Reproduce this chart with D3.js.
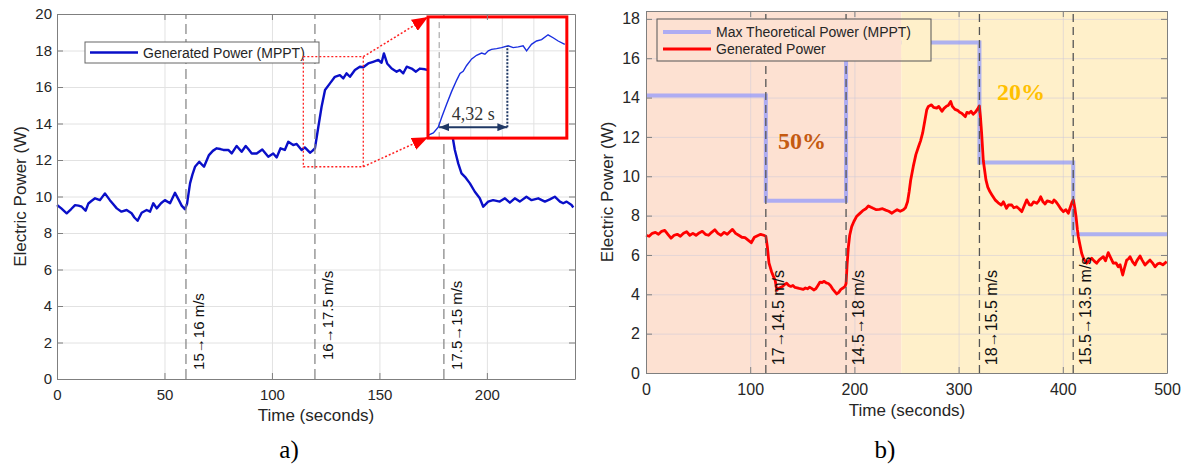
<!DOCTYPE html>
<html lang="en">
<head>
  <meta charset="UTF-8">
  <title>Generated power – wind steps</title>
  <style>
    body { margin: 0; background: #fff; }
    svg { display: block; font-family: "Liberation Sans", Arial, sans-serif; }
    .grid path { display: none; }
    .axis path, .axis line { stroke: #7f7f7f; }
    .axis text { fill: #262626; }
  </style>
  <script src="https://d3js.org/d3.v7.min.js"></script>
</head>
<body>
<svg id="chart" width="1189" height="466"></svg>
<script>
// -----------------------------
// Data – panel a)
// -----------------------------
const aTime = [0, 2, 4.5, 6.5, 8.4, 10, 11.5, 13.3, 14.6, 16, 17.7, 20, 22.3, 24.6, 26, 27.8, 30, 32.4, 34.7, 36, 37.5,
  39.4, 41.7, 43.3, 44.8, 46.4, 48.4, 50.2, 52.6, 54.9, 56.7, 58, 59.5, 60.5, 61.9, 63, 64.2, 66.2, 68.4, 70.7, 72.5,
  74.3, 76, 77.4, 79.7, 81.3, 83.6, 85.9, 87.8, 89, 90.6, 92.9, 95.5, 98.3, 100.6, 102.2, 104, 106, 107.6, 109.9,
  111.5, 113.8, 115.3, 117.7, 118.8, 120, 121.6, 123.1, 124.7, 127, 129.3, 131.6, 133.2, 134.7, 136.3, 138.6, 140.9,
  142.5, 144.8, 147.1, 149.5, 151, 152.1, 153.6, 155.7, 158, 159.5, 161.1, 162.7, 165, 167, 168.8, 171.2, 172.7,
  175, 178, 180, 181.5, 183, 185.1, 186.7, 188.2, 189.8, 192.1, 194.4, 196.7, 198.3, 200.6, 202.9, 206, 208.4,
  210.7, 213, 215.3, 218.4, 220.8, 223.9, 227, 229.3, 231.6, 234, 235.5, 237.1, 239.4, 240.2];
const aPower = [9.53, 9.35, 9.08, 9.3, 9.53, 9.5, 9.44, 9.22, 9.62, 9.75, 9.9, 9.8, 10.17, 9.8, 9.6, 9.35, 9.17, 9.26,
  9.08, 8.85, 8.67, 9.11, 9.26, 9.17, 9.63, 9.35, 9.63, 9.8, 9.63, 10.2, 9.8, 9.5, 9.3, 9.6, 10.72, 11.2, 11.63, 11.9,
  11.63, 12.27, 12.5, 12.64, 12.6, 12.55, 12.55, 12.36, 12.77, 12.45, 12.77, 12.6, 12.36, 12.36, 12.58, 12.18, 12.36,
  12.14, 12.64, 12.55, 13.0, 12.82, 12.88, 12.55, 12.69, 12.4, 12.5, 12.64, 13.82, 14.92, 15.84, 16.2, 16.56, 16.65,
  16.47, 16.75, 16.56, 16.93, 17.11, 17.08, 17.29, 17.38, 17.48, 17.33, 17.84, 17.29, 17.01, 16.84, 16.93, 16.75,
  17.11, 17.01, 16.84, 17.01, 16.97, 16.93, 17.0, 16.9, 16.6, 15.5, 14.0, 12.55, 11.8, 11.27, 11.08, 10.72, 10.26,
  9.9, 9.44, 9.72, 9.8, 9.72, 9.9, 9.66, 9.9, 9.72, 9.99, 9.8, 9.9, 9.72, 9.84, 9.99, 9.72, 9.63, 9.72, 9.53, 9.4];

// zoomed detail (inset)
const insetTime = [119.31, 119.63, 119.94, 120.16, 120.47, 120.79, 121.11, 121.32, 121.52, 121.74, 122.06, 122.37,
  122.69, 122.9, 123.11, 123.32, 123.64, 123.95, 124.37, 124.69, 125.01, 125.32, 125.54, 125.85, 126.17, 126.49,
  126.9, 127.22, 127.54, 127.96];
const insetPower = [12.69, 12.75, 12.91, 13.18, 13.54, 13.89, 14.2, 14.38, 14.44, 14.6, 14.78, 14.88, 14.94, 14.91,
  15.0, 15.04, 15.06, 15.09, 15.14, 15.09, 15.11, 15.14, 15.0, 15.18, 15.27, 15.31, 15.44, 15.36, 15.27, 15.18];
const insetXTicks = [122, 124, 126];
const insetYTicks = [13, 14, 15];
const settleStart = 120;
const settleTime = 4.32;

const aEvents = [60, 120, 180];
const aEventLabels = ["15\u219216 m/s", "16\u219217.5 m/s", "17.5\u219215 m/s"];
const aEventLabelBase = [0.5, 1.04, 0.5];
const aXTicks = [0, 50, 100, 150, 200];
const aYTicks = d3.range(0, 21, 2);

// -----------------------------
// Data – panel b)
// -----------------------------
const bTime = [0, 3, 6, 9, 12, 15, 18, 21, 24, 27, 30, 33, 36, 39, 42, 45, 48, 51, 54, 57, 60, 63, 66, 69, 72, 75, 78,
  81, 83, 86, 89, 92, 95, 98, 101, 104, 107, 110, 113, 115, 116.5, 118, 120.5, 122, 124, 125.5, 127, 129, 131, 133,
  135, 137, 139, 141, 143, 145, 147, 149, 151, 153, 155, 157, 159, 161, 163, 165, 167, 169, 171, 173, 175, 177, 179,
  181, 183, 185, 187, 189, 191, 192, 193, 194.2, 195.5, 197.4, 199.5, 202, 205, 208, 211, 213.4, 216, 218, 221, 224,
  227, 230, 233, 236, 238, 241, 244, 247, 249, 251, 252.5, 254, 256.5, 259, 261.5, 263.5, 265.5, 267.5, 269.4, 271,
  274, 276, 279, 281, 284, 286, 288.6, 290, 292.4, 294, 296.5, 299, 301, 303, 305, 306.5, 308, 310, 312, 314, 316,
  318, 319.9, 321, 322.1, 323.7, 326.3, 328, 330, 332, 335, 338, 341, 343, 346, 348, 351, 353, 355.8, 358, 360.6, 363,
  365.4, 368, 370, 372, 375, 377, 378.8, 381, 383, 385, 387.7, 390, 391.6, 393.5, 395.7, 398, 400.5, 403, 405.3, 407,
  409, 410.1, 411.5, 412.7, 414, 414.9, 416.5, 418.1, 420, 422.9, 425, 427.7, 430, 432.5, 435, 438.9, 441, 443.6, 446,
  448.4, 451, 453.2, 455, 457.5, 459.5, 461.3, 463, 464.5, 467, 469.3, 471, 474.1, 476, 478.9, 481, 483.7, 486, 488.5,
  491, 493.3, 496, 499.7];
const bPower = [7.0, 6.95, 7.1, 7.15, 7.05, 7.2, 7.25, 7.05, 6.85, 7.0, 7.05, 6.95, 7.1, 7.18, 7.0, 7.1, 7.0, 7.12, 7.2,
  7.05, 7.0, 7.15, 7.28, 7.1, 7.0, 7.15, 7.05, 7.2, 7.3, 7.1, 7.0, 6.9, 6.88, 6.75, 6.62, 6.9, 6.98, 7.05, 7.0, 6.95,
  6.4, 5.6, 5.15, 4.95, 4.7, 4.2, 4.3, 4.35, 4.4, 4.5, 4.56, 4.45, 4.4, 4.45, 4.35, 4.33, 4.3, 4.28, 4.25, 4.32, 4.28,
  4.36, 4.3, 4.22, 4.28, 4.45, 4.62, 4.6, 4.66, 4.58, 4.55, 4.45, 4.28, 4.15, 4.02, 4.1, 4.25, 4.32, 4.4, 4.55, 5.5,
  6.4, 7.0, 7.44, 7.7, 7.95, 8.1, 8.25, 8.35, 8.49, 8.42, 8.37, 8.3, 8.32, 8.35, 8.28, 8.22, 8.12, 8.2, 8.3, 8.22, 8.3,
  8.4, 8.7, 9.2, 9.8, 10.5, 11.1, 11.5, 11.8, 12.2, 12.8, 13.37, 13.55, 13.63, 13.5, 13.46, 13.55, 13.3, 13.45, 13.57,
  13.6, 13.8, 13.55, 13.4, 13.35, 13.25, 13.2, 13.1, 13.03, 13.25, 13.2, 13.3, 13.15, 13.25, 13.4, 13.57, 13.0, 12.2,
  10.8, 9.8, 9.45, 9.22, 9.05, 8.8, 8.65, 8.54, 8.7, 8.37, 8.55, 8.54, 8.4, 8.45, 8.35, 8.2, 8.5, 8.8, 8.55, 8.54, 8.7,
  8.63, 8.75, 8.96, 8.7, 8.59, 8.75, 8.71, 8.65, 8.8, 8.7, 8.54, 8.35, 8.2, 8.3, 8.12, 8.4, 8.7, 8.8, 8.4, 7.95, 7.3,
  6.93, 6.5, 6.09, 5.8, 5.58, 5.7, 5.83, 5.7, 5.58, 5.75, 5.91, 5.7, 6.12, 5.85, 5.58, 5.6, 5.4, 5.5, 4.98, 5.4, 5.74,
  5.8, 5.91, 5.65, 5.49, 5.7, 5.95, 5.75, 5.49, 5.6, 5.74, 5.6, 5.4, 5.55, 5.58, 5.5, 5.66];

// max theoretical power (steps)
const bStepTime = [0, 115, 192, 320, 410, 500];
const bStepPower = [14.1, 8.75, 16.8, 10.7, 7.05, 7.05];

const bEvents = [115, 192, 320, 410];
const bEventLabels = ["17\u219214.5 m/s", "14.5\u219218 m/s", "18\u219215.5 m/s", "15.5\u219213.5 m/s"];
const bBands = [[0, 245], [245, 500]];
const bBandColors = ["#fde1d2", "#fff0ca"];
const bPercentLabels = ["50%", "20%"];
const bPercentPos = [[126.7, 11.39], [336.9, 13.88]];
const bPercentColors = ["#c55a11", "#ffc000"];
const bXTicks = [0, 100, 200, 300, 400, 500];
const bYTicks = d3.range(0, 19, 2);

// -----------------------------
// Setup
// -----------------------------
const svg = d3.select("#chart");
const defs = svg.append("defs");

function addHead(id, color, w, h) {
  defs.append("marker")
    .attr("id", id)
    .attr("markerUnits", "userSpaceOnUse")
    .attr("markerWidth", w).attr("markerHeight", h)
    .attr("refX", w).attr("refY", h / 2)
    .attr("orient", "auto-start-reverse")
    .append("path")
    .attr("d", `M0,0L${w},${h / 2}L0,${h}Z`)
    .attr("fill", color);
}
addHead("redHead", "#ff0000", 16, 13);
addHead("navyHead", "#1f3864", 10, 8);

function drawGrid(g, x, y, xt, yt, color, opacity) {
  const [y0, y1] = y.range();
  const [x0, x1] = x.range();
  g.append("g").attr("class", "grid")
    .attr("transform", `translate(0,${y0})`)
    .call(d3.axisBottom(x).tickValues(xt).tickSize(-(y0 - y1)).tickFormat(""))
    .selectAll("line").attr("stroke", color).attr("stroke-opacity", opacity);
  g.append("g").attr("class", "grid")
    .attr("transform", `translate(${x0},0)`)
    .call(d3.axisLeft(y).tickValues(yt).tickSize(-(x1 - x0)).tickFormat(""))
    .selectAll("line").attr("stroke", color).attr("stroke-opacity", opacity);
}

function drawAxes(g, x, y, xt, yt, fs, padX, padY) {
  const [y0, y1] = y.range();
  const [x0, x1] = x.range();
  g.append("g").attr("class", "axis").attr("transform", `translate(0,${y0})`)
    .call(d3.axisBottom(x).tickValues(xt).tickSizeInner(-6).tickSizeOuter(0).tickPadding(padX))
    .selectAll("text").attr("font-size", fs);
  g.append("g").attr("class", "axis").attr("transform", `translate(0,${y1})`)
    .call(d3.axisTop(x).tickValues(xt).tickSizeInner(-6).tickSizeOuter(0).tickFormat(""));
  g.append("g").attr("class", "axis").attr("transform", `translate(${x0},0)`)
    .call(d3.axisLeft(y).tickValues(yt).tickSizeInner(-6).tickSizeOuter(0).tickPadding(padY))
    .selectAll("text").attr("font-size", fs);
  g.append("g").attr("class", "axis").attr("transform", `translate(${x1},0)`)
    .call(d3.axisRight(y).tickValues(yt).tickSizeInner(-6).tickSizeOuter(0).tickFormat(""));
  g.selectAll(".axis text").attr("font-family", "'Liberation Sans', Arial, sans-serif");
}

function eventMarks(g, x, y, events, labels, bases, fs, color, dash) {
  const [y0, y1] = y.range();
  g.selectAll(null).data(events).enter().append("line")
    .attr("x1", d => x(d)).attr("x2", d => x(d))
    .attr("y1", y0).attr("y2", y1)
    .attr("stroke", color).attr("stroke-width", 1.3)
    .attr("stroke-dasharray", dash);
  g.selectAll(null).data(events).enter().append("text")
    .attr("transform", (d, i) => `translate(${x(d) + 18},${y(bases[i])}) rotate(-90)`)
    .attr("font-size", fs)
    .attr("fill", "#111")
    .text((d, i) => labels[i]);
}

// -----------------------------
// Panel a)
// -----------------------------
const xa = d3.scaleLinear().domain([0, 241]).range([57, 575]);
const ya = d3.scaleLinear().domain([0, 20]).range([379, 14]);
const ga = svg.append("g");

drawGrid(ga, xa, ya, aXTicks, aYTicks, "#e2e2e2", 1);

const lineA = d3.line().x(d => xa(d[0])).y(d => ya(d[1]));
ga.append("path")
  .datum(d3.zip(aTime, aPower))
  .attr("d", lineA)
  .attr("fill", "none")
  .attr("stroke", "#0a0fc8")
  .attr("stroke-width", 2.4)
  .attr("stroke-linejoin", "round");

eventMarks(ga, xa, ya, aEvents, aEventLabels, aEventLabelBase, 15, "#8a8a8a", "10,5");

// legend a
const legA = ga.append("g").attr("transform", `translate(${xa.range()[0] + 28},${ya.range()[1] + 28})`);
legA.append("rect").attr("width", 234).attr("height", 21)
  .attr("fill", "#fff").attr("stroke", "#666").attr("stroke-width", 1);
legA.append("line").attr("x1", 5).attr("x2", 53).attr("y1", 10.5).attr("y2", 10.5)
  .attr("stroke", "#0a0fc8").attr("stroke-width", 2.4);
legA.append("text").attr("x", 58).attr("y", 15.5).attr("font-size", 14).attr("fill", "#262626")
  .text("Generated Power (MPPT)");

// zoom region + arrows
const zoomBox = { t0: 114.6, t1: 142.5, v0: 11.63, v1: 17.66 };
const insetBox = { t0: 172.6, t1: 237.2, v0: 13.2, v1: 19.84 };
ga.append("rect")
  .attr("x", xa(zoomBox.t0)).attr("y", ya(zoomBox.v1))
  .attr("width", xa(zoomBox.t1) - xa(zoomBox.t0))
  .attr("height", ya(zoomBox.v0) - ya(zoomBox.v1))
  .attr("fill", "none").attr("stroke", "#ff2020").attr("stroke-width", 1.3)
  .attr("stroke-dasharray", "2,2");
[[zoomBox.v1, insetBox.v1], [zoomBox.v0, insetBox.v0 + 0.05]].forEach(p => {
  ga.append("line")
    .attr("x1", xa(zoomBox.t1)).attr("y1", ya(p[0]))
    .attr("x2", xa(insetBox.t0)).attr("y2", ya(p[1]))
    .attr("stroke", "#ff2020").attr("stroke-width", 1.5)
    .attr("stroke-dasharray", "2,2")
    .attr("marker-end", "url(#redHead)");
});

// inset
const ix = d3.scaleLinear().domain([119.29, 128.09]).range([xa(insetBox.t0), xa(insetBox.t1)]);
const iy = d3.scaleLinear().domain([12.61, 15.93]).range([ya(insetBox.v0), ya(insetBox.v1)]);
defs.append("clipPath").attr("id", "insetClip").append("rect")
  .attr("x", ix.range()[0]).attr("y", iy.range()[1])
  .attr("width", ix.range()[1] - ix.range()[0]).attr("height", iy.range()[0] - iy.range()[1]);
const gi = ga.append("g");
gi.append("rect")
  .attr("x", ix.range()[0]).attr("y", iy.range()[1])
  .attr("width", ix.range()[1] - ix.range()[0]).attr("height", iy.range()[0] - iy.range()[1])
  .attr("fill", "#fff");
const gic = gi.append("g").attr("clip-path", "url(#insetClip)");
gic.selectAll(null).data(insetXTicks).enter().append("line")
  .attr("x1", d => ix(d)).attr("x2", d => ix(d)).attr("y1", iy.range()[0]).attr("y2", iy.range()[1])
  .attr("stroke", "#e2e2e2");
gic.selectAll(null).data(insetYTicks).enter().append("line")
  .attr("y1", d => iy(d)).attr("y2", d => iy(d)).attr("x1", ix.range()[0]).attr("x2", ix.range()[1])
  .attr("stroke", "#e2e2e2");
gic.append("line")
  .attr("x1", ix(settleStart)).attr("x2", ix(settleStart))
  .attr("y1", iy.range()[0]).attr("y2", iy.range()[1])
  .attr("stroke", "#999").attr("stroke-width", 1).attr("stroke-dasharray", "6,4");
gic.append("path")
  .datum(d3.zip(insetTime, insetPower))
  .attr("d", d3.line().x(d => ix(d[0])).y(d => iy(d[1])))
  .attr("fill", "none").attr("stroke", "#1a2fe0").attr("stroke-width", 1.4);
const arrowV = 12.91;
const settleEnd = settleStart + settleTime;
gic.append("line")
  .attr("x1", ix(settleEnd)).attr("x2", ix(settleEnd))
  .attr("y1", iy(arrowV)).attr("y2", iy(15.13))
  .attr("stroke", "#1f3864").attr("stroke-width", 2).attr("stroke-dasharray", "2,1.5");
gic.append("line")
  .attr("x1", ix(settleStart)).attr("x2", ix(settleEnd))
  .attr("y1", iy(arrowV)).attr("y2", iy(arrowV))
  .attr("stroke", "#1f3864").attr("stroke-width", 2)
  .attr("marker-start", "url(#navyHead)")
  .attr("marker-end", "url(#navyHead)");
gic.append("text")
  .attr("x", (ix(settleStart) + ix(settleEnd)) / 2).attr("y", iy(arrowV) - 7)
  .attr("text-anchor", "middle")
  .attr("font-family", "'Liberation Serif', 'DejaVu Serif', serif")
  .attr("font-size", 18).attr("fill", "#333")
  .text("4,32 s");
gi.append("rect")
  .attr("x", ix.range()[0]).attr("y", iy.range()[1])
  .attr("width", ix.range()[1] - ix.range()[0]).attr("height", iy.range()[0] - iy.range()[1])
  .attr("fill", "none").attr("stroke", "#ff0000").attr("stroke-width", 3);

drawAxes(ga, xa, ya, aXTicks, aYTicks, 15, 10, 5);

ga.append("text")
  .attr("x", 316).attr("y", 421)
  .attr("text-anchor", "middle").attr("font-size", 17).attr("fill", "#262626")
  .text("Time (seconds)");
ga.append("text")
  .attr("transform", `translate(26,${(ya.range()[0] + ya.range()[1]) / 2}) rotate(-90)`)
  .attr("text-anchor", "middle").attr("font-size", 17).attr("fill", "#262626")
  .text("Electric Power (W)");
ga.append("text")
  .attr("x", 289).attr("y", 458).attr("text-anchor", "middle")
  .attr("font-family", "'Liberation Serif', 'DejaVu Serif', serif").attr("font-size", 25)
  .text("a)");

// -----------------------------
// Panel b)
// -----------------------------
const xb = d3.scaleLinear().domain([0, 500]).range([646, 1167]);
const yb = d3.scaleLinear().domain([0, 18.4]).range([373, 11]);
const gb = svg.append("g");

function drawBands(g) {
  g.selectAll(null).data(bBands).enter().append("rect")
    .attr("x", d => xb(d[0])).attr("width", d => xb(d[1]) - xb(d[0]))
    .attr("y", yb.range()[1]).attr("height", yb.range()[0] - yb.range()[1])
    .attr("fill", (d, i) => bBandColors[i]);
}
drawBands(gb);
drawGrid(gb, xb, yb, bXTicks, bYTicks, "#cfcbd8", 0.55);

gb.append("path")
  .datum(d3.zip(bStepTime, bStepPower))
  .attr("d", d3.line().x(d => xb(d[0])).y(d => yb(d[1])).curve(d3.curveStepAfter))
  .attr("fill", "none").attr("stroke", "#8c95ff").attr("stroke-opacity", 0.7)
  .attr("stroke-width", 4);

gb.append("path")
  .datum(d3.zip(bTime, bPower))
  .attr("d", d3.line().x(d => xb(d[0])).y(d => yb(d[1])))
  .attr("fill", "none").attr("stroke", "#ff0000").attr("stroke-width", 2.8)
  .attr("stroke-linejoin", "round");

eventMarks(gb, xb, yb, bEvents, bEventLabels, bEvents.map(() => 0.4), 16, "#555", "8,5");

gb.selectAll(null).data(bPercentLabels).enter().append("text")
  .attr("x", (d, i) => xb(bPercentPos[i][0])).attr("y", (d, i) => yb(bPercentPos[i][1]))
  .attr("font-family", "'Liberation Serif', 'DejaVu Serif', serif")
  .attr("font-weight", "bold").attr("font-size", 24)
  .attr("fill", (d, i) => bPercentColors[i])
  .text(d => d);

// legend b (background follows bands)
const legBx = xb.range()[0] + 11, legBy = yb.range()[1] + 8, legBw = 274, legBh = 42;
defs.append("clipPath").attr("id", "legBClip").append("rect")
  .attr("x", legBx).attr("y", legBy).attr("width", legBw).attr("height", legBh);
drawBands(gb.append("g").attr("clip-path", "url(#legBClip)"));
gb.append("rect").attr("x", legBx).attr("y", legBy).attr("width", legBw).attr("height", legBh)
  .attr("fill", "none").attr("stroke", "#555").attr("stroke-width", 1);
const legB = gb.append("g").attr("transform", `translate(${legBx},${legBy})`);
[["Max Theoretical Power (MPPT)", "#8c95ff", 0.7, 4], ["Generated Power", "#ff0000", 1, 2.8]].forEach((e, i) => {
  legB.append("line").attr("x1", 6).attr("x2", 54).attr("y1", 13 + i * 17).attr("y2", 13 + i * 17)
    .attr("stroke", e[1]).attr("stroke-opacity", e[2]).attr("stroke-width", e[3]);
  legB.append("text").attr("x", 59).attr("y", 18 + i * 17).attr("font-size", 14).attr("fill", "#262626")
    .text(e[0]);
});

drawAxes(gb, xb, yb, bXTicks, bYTicks, 16, 11, 6);

gb.append("text")
  .attr("x", 907).attr("y", 416)
  .attr("text-anchor", "middle").attr("font-size", 17).attr("fill", "#262626")
  .text("Time (seconds)");
gb.append("text")
  .attr("transform", `translate(613,${(yb.range()[0] + yb.range()[1]) / 2}) rotate(-90)`)
  .attr("text-anchor", "middle").attr("font-size", 17).attr("fill", "#262626")
  .text("Electric Power (W)");
gb.append("text")
  .attr("x", 885).attr("y", 458).attr("text-anchor", "middle")
  .attr("font-family", "'Liberation Serif', 'DejaVu Serif', serif").attr("font-size", 25)
  .text("b)");
</script>
</body>
</html>
